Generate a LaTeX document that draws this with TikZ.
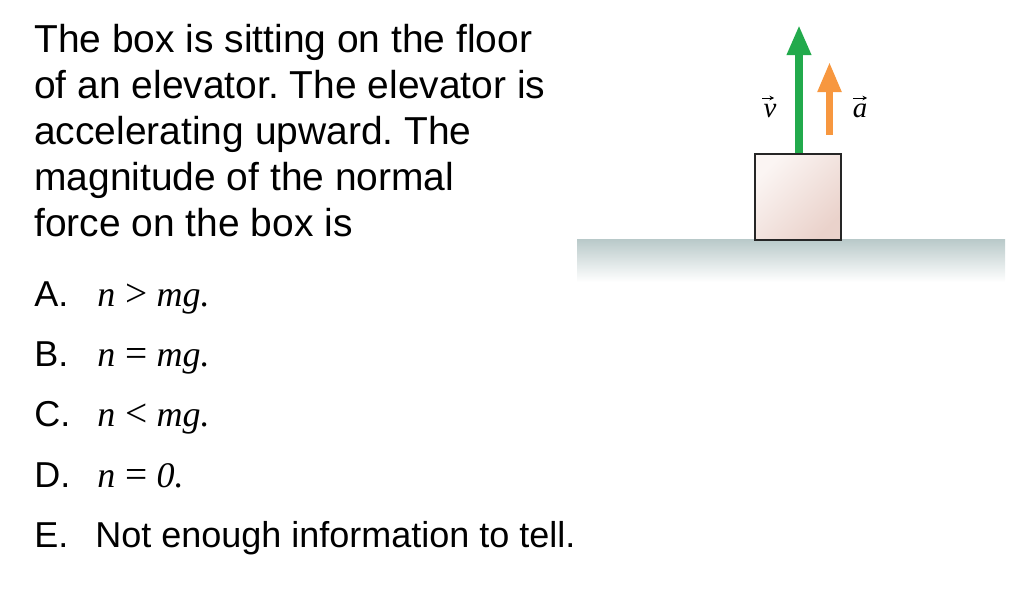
\documentclass[tikz,border=0pt]{standalone}
\usepackage{fontspec}
\setmainfont{Liberation Sans}
\newfontfamily\tnr{Liberation Serif}
\usetikzlibrary{arrows.meta}
\frenchspacing
\definecolor{vgreen}{HTML}{22AA4C}
\definecolor{aorange}{HTML}{F7973F}
\definecolor{floorc}{HTML}{BACACA}
\definecolor{boxhi}{HTML}{FBF5F3}
\definecolor{boxlo}{HTML}{EAD2CB}
\newcommand{\qfont}{\fontsize{27.7}{32}\selectfont}
\newcommand{\ofont}{\fontsize{25.6}{32}\selectfont}
\newcommand{\eqn}[3]{{\tnr\itshape #1}\hspace{0.28em}{\tnr\fontsize{28}{32}\selectfont #2}\hspace{0.25em}{\tnr\itshape #3}}
\tikzset{qline/.style={anchor=base west,inner sep=0pt,font=\qfont},
    oline/.style={anchor=base west,inner sep=0pt,font=\ofont},
    veclabel/.style={anchor=base,inner sep=0pt,font=\fontsize{20.5}{24}\selectfont\tnr\itshape},
    vecbar/.style={line width=0.6pt,-{Stealth[length=3.2pt,width=3.2pt]}}}
\begin{document}
\begin{tikzpicture}[x=0.025cm,y=-0.025cm]
        \useasboundingbox (0,0) rectangle (1012,602);
        \node [qline] (q1) at (34,53) {The box is sitting on the floor};
        \node [qline] (q2) at (34,99) {of an elevator. The elevator is};
        \node [qline] (q3) at (34,145) {accelerating upward. The};
        \node [qline] (q4) at (34,191) {magnitude of the normal};
        \node [qline] (q5) at (34,237) {force on the box is};
        \node [oline] (optA) at (34,307) {A.};
        \node [oline] (optB) at (34,367) {B.};
        \node [oline] (optC) at (34,427) {C.};
        \node [oline] (optD) at (34,487) {D.};
        \node [oline] (optE) at (34,547) {E.};
        \node [oline] (ansA) at (97,307) {\eqn{n}{>}{mg.}};
        \node [oline] (ansB) at (97,367) {\eqn{n}{=}{mg.}};
        \node [oline] (ansC) at (97,427) {\eqn{n}{<}{mg.}};
        \node [oline] (ansD) at (97,487) {\eqn{n}{=}{0.}};
        \node [oline] (ansE) at (95,547) {Not enough information to tell.};
        \shade [top color=floorc,bottom color=white] (577,240) rectangle (1005,282);
        \shade [top color=boxhi,bottom color=boxlo,shading angle=45] (755,154) rectangle (841,240);
        \draw [line width=1.4pt,black!85] (755,154) rectangle (841,240);
        \draw [vgreen,line width=5.8pt,-{Triangle[length=21.5pt,width=16.2pt]}] (799,153) -- (799,25);
        \draw [aorange,line width=5pt,-{Triangle[length=21.5pt,width=16pt]}] (829.5,135) -- (829.5,62);
        \node [veclabel] (vlab) at (770,118) {v};
        \node [veclabel] (alab) at (860,118) {a};
        \draw [vecbar] (762,98) -- (774,98);
        \draw [vecbar] (853,98) -- (867,98);
    \end{tikzpicture}
\end{document}
